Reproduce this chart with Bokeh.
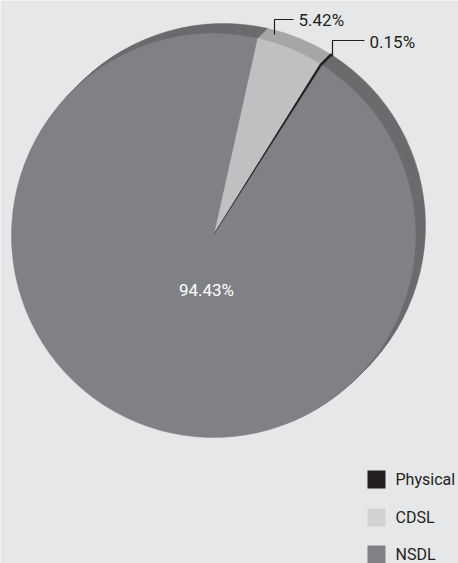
import math
from bokeh.plotting import figure
from bokeh.models import Range1d, ColumnDataSource
from bokeh.core.properties import value
from bokeh.embed import file_html
from bokeh.resources import INLINE

# ---- data ----
categories = ["CDSL", "Physical", "NSDL"]          # clockwise order from start
shares = [5.42, 0.15, 94.43]
top_colors = ["#bfc0c2", "#231f20", "#808184"]
side_colors = ["#a6a7a9", "#231f20", "#6b6c6e"]
labels = ["5.42%", "0.15%", "94.43%"]
legend_names = ["Physical", "CDSL", "NSDL"]
legend_colors = ["#231f20", "#d1d2d4", "#808184"]

BG = "#e6e7e8"
FONT = "Roboto"
H = 563  # image height, used to flip to data coords

def fy(y):
    return H - y

p = figure(width=458, height=563, x_range=Range1d(0, 458), y_range=Range1d(0, 563),
           output_backend="svg", toolbar_location=None, min_border=0)
p.axis.visible = False
p.grid.visible = False
p.outline_line_color = None
p.background_fill_color = BG
p.border_fill_color = BG

cx, cy, r = 213, fy(235), 202
start_cw = 12.5
total = sum(shares)
starts, ends = [], []
a = start_cw
for s in shares:
    b = a + s / total * 360.0
    # convert clockwise-from-top to math angles (anticlockwise from +x)
    starts.append(math.radians(90 - b))
    ends.append(math.radians(90 - a))
    a = b
lw = [0.5, 1.4, 0.5]

# extruded side (shadow)
for k in range(10, 0, -1):
    src = ColumnDataSource(dict(x=[cx + k] * 3, y=[cy + k] * 3, s=starts, e=ends,
                                c=side_colors, lw=lw))
    p.wedge(x="x", y="y", radius=r, start_angle="s", end_angle="e", fill_color="c",
            line_color="c", line_width="lw", source=src)

# top face
src = ColumnDataSource(dict(x=[cx] * 3, y=[cy] * 3, s=starts, e=ends, c=top_colors, lw=lw))
p.wedge(x="x", y="y", radius=r, start_angle="s", end_angle="e", fill_color="c",
        line_color="c", line_width="lw", source=src)

# leader lines
p.line([274, 274, 293], [fy(34), fy(19), fy(19)], line_color="#231f20", line_width=1.2)
p.line([332, 332, 364], [fy(56), fy(40), fy(40)], line_color="#231f20", line_width=1.2)

p.text(x=[298, 369], y=[fy(19), fy(41)], text=labels[:2], text_color="#231f20",
       text_font=value(FONT), text_font_size="17px", text_baseline="middle", text_align="left")
p.text(x=[206], y=[fy(289)], text=[labels[2]], text_color="white",
       text_font=value(FONT), text_font_size="17px", text_baseline="middle", text_align="center")

# legend
ly = [fy(479), fy(517), fy(554)]
p.rect(x=[376] * 3, y=ly, width=18, height=18, fill_color=legend_colors, line_color=None)
p.text(x=[395] * 3, y=ly, text=legend_names, text_color="#231f20",
       text_font=value(FONT), text_font_size="16px", text_baseline="middle", text_align="left")

open("out.html", "w").write(file_html(p, INLINE))
